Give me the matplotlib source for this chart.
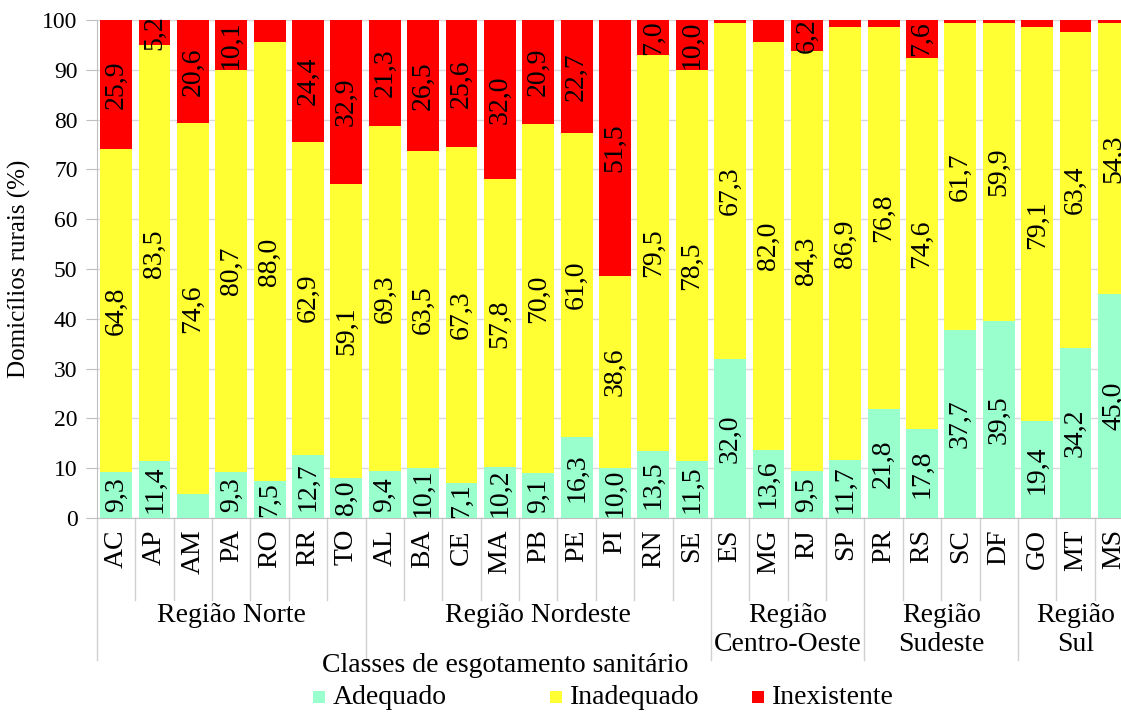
import numpy as np
import matplotlib
matplotlib.use('Agg')
import matplotlib.pyplot as plt
from matplotlib.patches import Rectangle
import matplotlib.transforms as mtransforms

plt.rcParams['font.family'] = ['Liberation Serif', 'DejaVu Serif']

estados = ['AC', 'AP', 'AM', 'PA', 'RO', 'RR', 'TO',
           'AL', 'BA', 'CE', 'MA', 'PB', 'PE', 'PI', 'RN', 'SE',
           'ES', 'MG', 'RJ', 'SP',
           'PR', 'RS', 'SC', 'DF',
           'GO', 'MT', 'MS']
adequado = [9.3, 11.4, 4.8, 9.3, 7.5, 12.7, 8.0,
            9.4, 10.1, 7.1, 10.2, 9.1, 16.3, 10.0, 13.5, 11.5,
            32.0, 13.6, 9.5, 11.7,
            21.8, 17.8, 37.7, 39.5,
            19.4, 34.2, 45.0]
inadequado = [64.8, 83.5, 74.6, 80.7, 88.0, 62.9, 59.1,
              69.3, 63.5, 67.3, 57.8, 70.0, 61.0, 38.6, 79.5, 78.5,
              67.3, 82.0, 84.3, 86.9,
              76.8, 74.6, 61.7, 59.9,
              79.1, 63.4, 54.3]
inexistente = [25.9, 5.2, 20.6, 10.1, 4.5, 24.4, 32.9,
               21.3, 26.5, 25.6, 32.0, 20.9, 22.7, 51.5, 7.0, 10.0,
               0.7, 4.4, 6.2, 1.4,
               1.4, 7.6, 0.6, 0.6,
               1.5, 2.4, 0.7]
regioes = ['Região Norte', 'Região Nordeste', 'Região\nCentro-Oeste',
           'Região\nSudeste', 'Região\nSul']
n_por_regiao = [7, 9, 4, 4, 3]

cores = ['#99FFCC', '#FFFF33', '#FF0000']
series = [adequado, inadequado, inexistente]
nomes = ['Adequado', 'Inadequado', 'Inexistente']

W, H = 1121, 713
fig = plt.figure(figsize=(W / 100, H / 100), dpi=100)
ax = fig.add_axes([97 / W, 195 / H, 1036 / W, 498 / H])

x = np.arange(len(estados))
base = np.zeros(len(estados))
for vals, cor in zip(series, cores):
    vals = np.array(vals)
    ax.bar(x, vals, bottom=base, width=0.83, color=cor, zorder=2)
    for xi, b, v in zip(x, base, vals):
        if v >= 5:
            ax.text(xi, b + v / 2, f'{v:.1f}'.replace('.', ','), rotation=90,
                    ha='center', va='center', fontsize=20, zorder=3)
    base += vals

ax.set_xlim(-0.5, len(estados) - 0.5)
ax.set_ylim(0, 100)
ax.set_yticks(range(0, 101, 10))
ax.tick_params(axis='y', labelsize=17, length=8, color='#bfbfbf', pad=6)
ax.set_xticks(x)
ax.set_xticklabels(estados, rotation=90, fontsize=20)
ax.tick_params(axis='x', length=0, pad=8)
ax.grid(axis='y', color='#d9d9d9', linewidth=1, zorder=0)
for s in ['top', 'right']:
    ax.spines[s].set_visible(False)
for s in ['left', 'bottom']:
    ax.spines[s].set_color('#bfbfbf')
ax.set_ylabel('Domicílios rurais (%)', fontsize=18, labelpad=8)

# separadores e nomes das regioes
trans = mtransforms.blended_transform_factory(ax.transData, ax.transAxes)
limites = np.cumsum([0] + n_por_regiao)
for i in range(len(estados) + 1):
    fim = -0.285 if i in limites else -0.165
    ax.plot([i - 0.5, i - 0.5], [0, fim], transform=trans, color='#d0d0d0',
            linewidth=1, clip_on=False)
for nome, a, b in zip(regioes, limites[:-1], limites[1:]):
    ax.text((a + b - 1) / 2, -0.17, nome, transform=trans, ha='center',
            va='top', fontsize=20, linespacing=1.25)

fig.text(505 / W, 1 - 665 / H, 'Classes de esgotamento sanitário',
         ha='center', va='center', fontsize=20)

# legenda
pos_legenda = [313, 550, 752]
for px, cor, nome in zip(pos_legenda, cores, nomes):
    fig.patches.append(Rectangle((px / W, 1 - 703 / H), 12 / W, 12 / H,
                                 transform=fig.transFigure, facecolor=cor,
                                 edgecolor='none'))
    fig.text((px + 20) / W, 1 - 698 / H, nome, ha='left', va='center',
             fontsize=20)

fig.savefig('out.png', dpi=100)
